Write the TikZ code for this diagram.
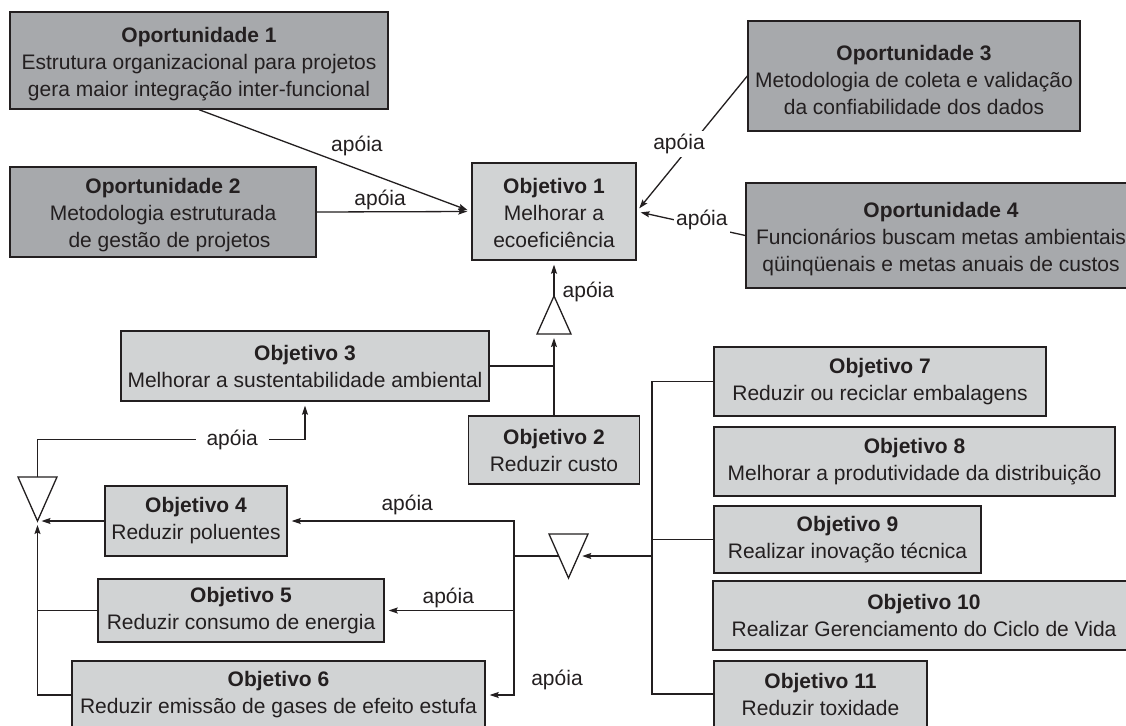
\documentclass[tikz,border=0pt]{standalone}
\usepackage{fontspec}
\setmainfont{Liberation Sans}
\usetikzlibrary{arrows.meta,calc}
\definecolor{opfill}{HTML}{A7A9AC}
\definecolor{objfill}{HTML}{D1D3D4}
\definecolor{ink}{HTML}{231F20}
\newcommand\diagfont{\fontsize{21}{27}\selectfont}
% invisible strut that lowers a node's text block a little
\newcommand\toppad[1]{\rule{0pt}{#1}}

\begin{document}
\begin{tikzpicture}[x=1pt,y=-1pt,
  box/.style={draw=ink, line width=1.4pt, inner sep=0pt, align=center, font=\diagfont, text=ink},
  opbox/.style={box, fill=opfill},
  objbox/.style={box, fill=objfill},
  link/.style={draw=ink, line width=1.3pt},
  arr/.style={link, -{Stealth[length=9pt,width=6pt,inset=1.5pt]}, shorten >=4pt},
  lbl/.style={font=\diagfont, text=ink, inner sep=1pt},
  gap/.style={lbl, fill=white, inner xsep=2pt, inner ysep=3pt},
  junction/.style={draw=ink, line width=1.3pt, fill=white, line join=miter}]

\fill[white] (0,0) rectangle (1126,725);
\useasboundingbox (0,0) rectangle (1126,725);

% opportunities
\node[opbox, minimum width=378pt, minimum height=97pt] (op1) at (199,60.5)
  {\toppad{23pt}\textbf{Oportunidade 1}\\Estrutura organizacional para projetos\\gera maior integração inter-funcional};
\node[opbox, minimum width=306pt, minimum height=90pt] (op2) at (163,212)
  {\toppad{22pt}\textbf{Oportunidade 2}\\Metodologia estruturada\\\hspace*{13pt}de gestão de projetos};
\node[opbox, minimum width=332pt, minimum height=110pt] (op3) at (914,76)
  {\toppad{23pt}\textbf{Oportunidade 3}\\Metodologia de coleta e validação\\da confiabilidade dos dados};
\node[opbox, minimum width=390pt, minimum height=105pt] (op4) at (941,235.5)
  {\toppad{23pt}\textbf{Oportunidade 4}\\Funcionários buscam metas ambientais\\qüinqüenais e metas anuais de custos};

% objectives
\node[objbox, minimum width=164pt, minimum height=97pt] (obj1) at (554,211.5)
  {\toppad{19pt}\textbf{Objetivo 1}\\Melhorar a\\ecoeficiência};
\node[objbox, minimum width=171pt, minimum height=68pt] (obj2) at (554,450)
  {\textbf{Objetivo 2}\\Reduzir custo};
\node[objbox, minimum width=368pt, minimum height=70pt] (obj3) at (305,366)
  {\textbf{Objetivo 3}\\Melhorar a sustentabilidade ambiental};
\node[objbox, minimum width=182pt, minimum height=70pt] (obj4) at (196,521)
  {\textbf{Objetivo 4}\\Reduzir poluentes};
\node[objbox, minimum width=286pt, minimum height=63pt] (obj5) at (241,610.5)
  {\textbf{Objetivo 5}\\Reduzir consumo de energia};
\node[objbox, minimum width=413pt, minimum height=68pt] (obj6) at (278.5,695)
  {\textbf{Objetivo 6}\\Reduzir emissão de gases de efeito estufa};
\node[objbox, minimum width=332pt, minimum height=69pt] (obj7) at (880,381.5)
  {\textbf{Objetivo 7}\\Reduzir ou reciclar embalagens};
\node[objbox, minimum width=401pt, minimum height=69pt] (obj8) at (914.5,461.5)
  {\textbf{Objetivo 8}\\Melhorar a produtividade da distribuição};
\node[objbox, minimum width=267pt, minimum height=67pt] (obj9) at (847.5,539.5)
  {\textbf{Objetivo 9}\\Realizar inovação técnica};
\node[objbox, minimum width=422pt, minimum height=69pt] (obj10) at (924,615.5)
  {\textbf{Objetivo 10}\\Realizar Gerenciamento do Ciclo de Vida};
\node[objbox, minimum width=213pt, minimum height=66pt] (obj11) at (820.5,694)
  {\textbf{Objetivo 11}\\Reduzir toxidade};

% junction triangles
\coordinate (t1apex) at (554,296);
\coordinate (t1base) at (554,334);
\coordinate (t2top) at (37.5,477);
\coordinate (t2apex) at (37.5,521);
\coordinate (t3tl) at (549,534);
\coordinate (t3tr) at (588,534);
\coordinate (t3apex) at (568.5,578);
\coordinate (t3l) at ($(t3tl)!0.5!(t3apex)$);
\coordinate (t3r) at ($(t3tr)!0.5!(t3apex)$);
\coordinate (hub) at (514,556);
\coordinate (bus) at (652,556);

% links into Objetivo 1
\draw[arr] (op1.south) -- node[lbl, pos=0.58, yshift=23pt] {apóia} (obj1.west);
\draw[arr] (op2.east) -- node[lbl, pos=0.41, yshift=12pt] {apóia} (obj1.west);
\draw[arr] (op3.west) -- node[gap, pos=0.5, xshift=-13pt] {apóia} (obj1.east);
\draw[arr] (op4.west) -- node[gap, pos=0.4, yshift=6pt] {apóia} (obj1.east);

\draw[arr] (obj2.north) -- (t1base);
\draw[arr] (t1apex) -- node[lbl, anchor=west, pos=0.12, xshift=7pt] {apóia} (obj1.south);
\draw[link] (obj3.east) -- (obj3.east -| obj2.north);

% left group
\draw[arr] (t2top) |- node[gap, pos=0.864, inner xsep=11pt] {apóia} ($(obj3.south)+(0,38)$) -- (obj3.south);
\draw[arr] (obj4.west) -- (t2apex);
\draw[link] (obj5.west) -- (obj5.west -| t2apex);
\draw[arr] (obj6.west) -| (t2apex);

% middle group
\draw[link] (t3l) -- (hub);
\draw[arr] (hub) |- node[lbl, pos=0.736, yshift=16pt] {apóia} (obj4.east);
\draw[arr] (hub) |- node[lbl, pos=0.754, yshift=13pt] {apóia} (obj5.east);
\draw[arr] (hub) |- node[lbl, pos=0.5, xshift=43pt, yshift=15pt] {apóia} (obj6.east);

% right group
\draw[arr] (bus) -- (t3r);
\draw[link] (obj7.west) -| (bus);
\draw[link] (obj9.west) -| (bus);
\draw[link] (obj11.west) -| (bus);

% triangles on top of the links
\draw[junction] (t1apex) -- (537,334) -- (571,334) -- cycle;
\draw[junction] (18,477) -- (57,477) -- (t2apex) -- cycle;
\draw[junction] (t3tl) -- (t3tr) -- (t3apex) -- cycle;
\end{tikzpicture}
\end{document}
